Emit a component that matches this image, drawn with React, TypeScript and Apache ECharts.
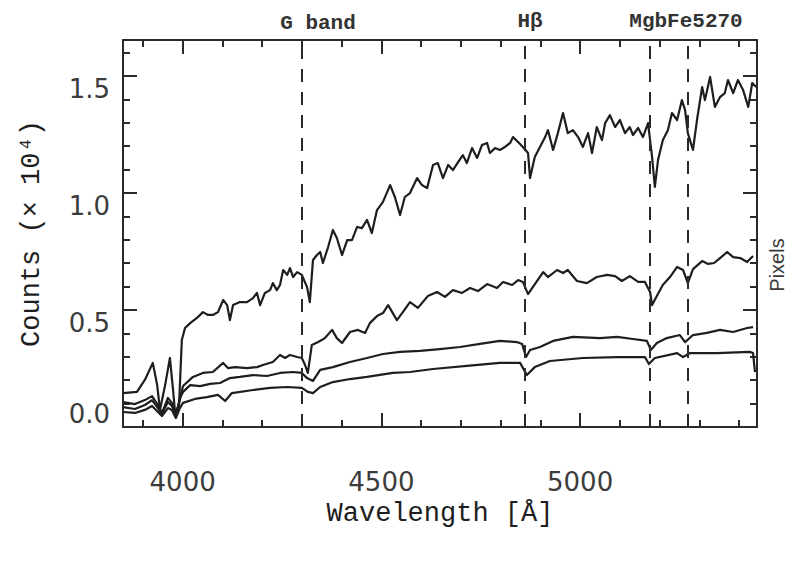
import React, { useEffect, useRef } from "react";
import * as echarts from "echarts";

// ---- Spectrum 1 (brightest) ----
const s1Wave = [3850,3885,3905,3925,3936,3943,3956,3968,3976,3981,3991,3998,4006,4019,4036,4051,4064,4076,4089,4102,4112,4119,4127,4144,4162,4177,4187,4195,4207,4220,4227,4237,4245,4253,4263,4270,4278,4288,4300,4313,4320,4328,4338,4346,4353,4366,4378,4388,4401,4414,4426,4439,4451,4464,4476,4489,4504,4522,4534,4547,4559,4572,4590,4602,4615,4630,4642,4655,4668,4680,4693,4705,4715,4728,4741,4753,4766,4773,4786,4798,4811,4824,4831,4844,4856,4869,4874,4886,4899,4912,4919,4932,4944,4957,4969,4982,4995,5007,5020,5030,5042,5055,5063,5075,5088,5100,5113,5125,5133,5146,5158,5171,5181,5188,5196,5208,5221,5231,5244,5256,5264,5271,5284,5294,5307,5314,5327,5339,5352,5364,5372,5385,5397,5410,5423,5433,5443];
const s1Flux = [0.145,0.150,0.201,0.274,0.179,0.073,0.179,0.295,0.158,0.060,0.094,0.372,0.423,0.444,0.466,0.491,0.479,0.479,0.491,0.543,0.521,0.457,0.521,0.534,0.534,0.551,0.573,0.521,0.573,0.585,0.615,0.585,0.607,0.671,0.650,0.679,0.641,0.662,0.650,0.598,0.534,0.714,0.735,0.748,0.701,0.769,0.842,0.808,0.735,0.799,0.799,0.855,0.850,0.885,0.829,0.927,0.962,1.034,0.983,0.906,0.983,1.000,1.064,1.034,1.021,1.120,1.128,1.064,1.120,1.098,1.132,1.162,1.128,1.192,1.150,1.205,1.214,1.171,1.192,1.184,1.197,1.214,1.239,1.218,1.197,1.171,1.064,1.154,1.197,1.239,1.269,1.184,1.256,1.342,1.256,1.269,1.239,1.197,1.256,1.171,1.282,1.226,1.299,1.333,1.282,1.312,1.256,1.282,1.248,1.278,1.239,1.299,1.154,1.026,1.141,1.226,1.269,1.342,1.312,1.397,1.355,1.256,1.184,1.312,1.453,1.397,1.496,1.368,1.410,1.427,1.483,1.427,1.483,1.440,1.368,1.470,1.453];

// ---- Spectrum 2 ----
const s2Wave = [3850,3880,3905,3923,3938,3948,3963,3973,3983,3993,4001,4026,4051,4076,4102,4114,4132,4162,4187,4202,4227,4245,4258,4270,4288,4300,4308,4315,4325,4341,4358,4376,4388,4401,4421,4441,4459,4471,4489,4504,4517,4539,4554,4572,4592,4617,4640,4660,4680,4703,4723,4743,4766,4791,4806,4829,4844,4856,4869,4881,4907,4919,4942,4957,4969,4992,5017,5042,5068,5088,5105,5125,5146,5163,5176,5181,5193,5208,5226,5244,5259,5271,5284,5307,5322,5337,5352,5370,5385,5403,5420,5435];
const s2Flux = [0.107,0.098,0.115,0.132,0.094,0.060,0.124,0.103,0.051,0.115,0.175,0.214,0.231,0.235,0.274,0.252,0.256,0.252,0.256,0.265,0.278,0.308,0.295,0.308,0.299,0.295,0.265,0.231,0.350,0.363,0.380,0.415,0.380,0.359,0.406,0.415,0.402,0.444,0.474,0.487,0.521,0.457,0.491,0.534,0.509,0.560,0.577,0.556,0.585,0.573,0.594,0.581,0.611,0.594,0.620,0.607,0.628,0.620,0.568,0.598,0.662,0.641,0.671,0.658,0.671,0.624,0.615,0.641,0.650,0.645,0.624,0.645,0.620,0.620,0.577,0.521,0.560,0.607,0.641,0.684,0.671,0.615,0.675,0.709,0.697,0.701,0.722,0.748,0.726,0.722,0.705,0.731];

// ---- Spectrum 3 ----
const s3Wave = [3850,3880,3905,3923,3938,3948,3963,3973,3983,3993,4001,4019,4044,4069,4094,4119,4144,4177,4212,4245,4278,4300,4313,4328,4346,4378,4421,4464,4504,4547,4597,4647,4698,4748,4798,4841,4854,4864,4874,4899,4932,4982,5050,5093,5133,5168,5178,5193,5218,5251,5264,5284,5319,5352,5385,5420,5435];
const s3Flux = [0.085,0.077,0.094,0.115,0.081,0.056,0.107,0.090,0.047,0.124,0.150,0.179,0.175,0.184,0.188,0.209,0.214,0.222,0.218,0.231,0.235,0.231,0.209,0.197,0.244,0.256,0.278,0.295,0.312,0.321,0.325,0.333,0.342,0.355,0.368,0.363,0.355,0.299,0.329,0.342,0.368,0.385,0.380,0.385,0.376,0.368,0.329,0.359,0.380,0.393,0.363,0.393,0.402,0.415,0.406,0.423,0.427];

// ---- Spectrum 4 (faintest) ----
const s4Wave = [3850,3880,3905,3923,3938,3948,3963,3973,3983,3993,4001,4031,4061,4089,4107,4124,4177,4220,4263,4300,4315,4328,4346,4378,4421,4464,4529,4572,4630,4715,4798,4849,4866,4886,4924,5007,5093,5163,5173,5188,5244,5259,5277,5344,5427,5435,5440];
const s4Flux = [0.064,0.060,0.073,0.090,0.064,0.047,0.081,0.073,0.038,0.081,0.103,0.120,0.128,0.137,0.111,0.145,0.158,0.167,0.171,0.167,0.150,0.145,0.171,0.192,0.205,0.214,0.231,0.235,0.248,0.261,0.274,0.274,0.222,0.256,0.282,0.295,0.299,0.299,0.269,0.295,0.316,0.299,0.316,0.316,0.321,0.316,0.235];

// feature lines (Angstrom) and their labels
const featureWaves = [4300, 4861, 5175, 5270];
const featureNames = ["G band", "H\u03b2", "MgbFe5270"];

// tick labels
const xTickLabels = ["4000", "4500", "5000"];
const yTickLabels = ["0.0", "0.5", "1.0", "1.5"];

const X_MIN = 3850;
const X_MAX = 5445;
const Y_MIN = 0;
const Y_MAX = 1.654;

const ink = "#2a2a2a";
const labelColor = "#3c3c3c";
const monoFont = "Liberation Mono";

function App() {
  const ref = useRef<HTMLDivElement>(null);

  useEffect(() => {
    if (!ref.current) return;
    const chart = echarts.init(ref.current, null, { renderer: "svg" });

    const spectra = [
      [s1Wave, s1Flux],
      [s2Wave, s2Flux],
      [s3Wave, s3Flux],
      [s4Wave, s4Flux],
    ];

    const tickLabelStyle = {
      fontFamily: "DejaVu Sans",
      fontSize: 26,
      color: labelColor,
    };
    const nameStyle = {
      fontFamily: monoFont,
      fontWeight: "normal" as const,
      fontSize: 27,
      color: "#1e1e1e",
    };

    const xMajor = (pos: "bottom" | "top", labels: boolean) => ({
      type: "value",
      position: pos,
      min: X_MIN,
      max: X_MAX,
      splitNumber: 3,
      minInterval: 500,
      maxInterval: 500,
      axisLine: { show: true, onZero: false, lineStyle: { color: ink, width: 2 } },
      axisTick: { show: true, inside: true, length: 14, lineStyle: { color: ink, width: 2 } },
      axisLabel: labels
        ? {
            show: true,
            margin: 42,
            showMinLabel: false,
            showMaxLabel: false,
            formatter: (v: number) => (xTickLabels.includes(String(v)) ? String(v) : ""),
            ...tickLabelStyle,
          }
        : { show: false },
      splitLine: { show: false },
      ...(labels
        ? {
            name: "Wavelength [\u00c5]",
            nameLocation: "middle",
            nameGap: 73,
            nameMoveOverlap: false,
            nameTextStyle: nameStyle,
          }
        : {}),
    });
    const xMinor = (pos: "bottom" | "top") => ({
      type: "value",
      position: pos,
      min: X_MIN,
      max: X_MAX,
      splitNumber: 16,
      minInterval: 100,
      maxInterval: 100,
      axisLine: { show: false, onZero: false },
      axisTick: { show: true, inside: true, length: 7, lineStyle: { color: ink, width: 2 } },
      axisLabel: { show: false },
      splitLine: { show: false },
    });

    const yMajor = (pos: "left" | "right", labels: boolean) => ({
      type: "value",
      position: pos,
      min: Y_MIN,
      max: Y_MAX,
      interval: 0.5,
      axisLine: { show: true, onZero: false, lineStyle: { color: ink, width: 2 } },
      axisTick: { show: true, inside: true, length: 14, lineStyle: { color: ink, width: 2 } },
      axisLabel: labels
        ? {
            show: true,
            margin: 13,
            verticalAlign: "top",
            verticalAlignMinLabel: "bottom",
            showMaxLabel: false,
            formatter: (v: number) =>
              yTickLabels.find((l) => Math.abs(parseFloat(l) - v) < 1e-6) ?? "",
            ...tickLabelStyle,
          }
        : { show: false },
      splitLine: { show: false },
      ...(labels
        ? {
            name: "Counts (\u00d7 10\u2074)",
            nameLocation: "middle",
            nameRotate: 90,
            nameGap: 78,
            nameMoveOverlap: false,
            nameTextStyle: nameStyle,
          }
        : {}),
    });
    const yMinor = (pos: "left" | "right") => ({
      type: "value",
      position: pos,
      min: Y_MIN,
      max: Y_MAX,
      interval: 0.1,
      axisLine: { show: false, onZero: false },
      axisTick: { show: true, inside: true, length: 7, lineStyle: { color: ink, width: 2 } },
      axisLabel: { show: false },
      splitLine: { show: false },
    });

    const topFont = { fontFamily: monoFont, fontWeight: "bold", fontSize: 21, fill: "#333" };

    const option: any = {
      animation: false,
      backgroundColor: "#ffffff",
      grid: {
        left: 123,
        right: 33,
        top: 40,
        bottom: 134,
        containLabel: false,
        outerBoundsMode: "none",
      },
      xAxis: [xMajor("bottom", true), xMinor("bottom"), xMajor("top", false), xMinor("top")],
      yAxis: [yMajor("left", true), yMinor("left"), yMajor("right", false), yMinor("right")],
      series: spectra.map(([w, f], i) => ({
        type: "line",
        xAxisIndex: 0,
        yAxisIndex: 0,
        data: (w as number[]).map((x, j) => [x, (f as number[])[j]]),
        showSymbol: false,
        symbol: "none",
        silent: true,
        lineStyle: { color: "#1e1e1e", width: 2.2, join: "round" },
        z: 3,
        markLine:
          i === 0
            ? {
                silent: true,
                symbol: ["none", "none"],
                label: { show: false },
                lineStyle: { type: [13, 10], color: ink, width: 2 },
                data: featureWaves.map((x) => ({ xAxis: x })),
              }
            : undefined,
      })),
      graphic: [
        {
          type: "text",
          x: 318,
          y: 23,
          style: { text: featureNames[0], align: "center", verticalAlign: "middle", ...topFont },
        },
        {
          type: "text",
          x: 530,
          y: 21,
          style: { text: featureNames[1], align: "center", verticalAlign: "middle", ...topFont },
        },
        {
          type: "text",
          x: 686,
          y: 21,
          style: { text: featureNames[2], align: "center", verticalAlign: "middle", ...topFont },
        },
        {
          type: "text",
          x: 777,
          y: 265,
          rotation: Math.PI / 2,
          style: {
            text: "Pixels",
            align: "center",
            verticalAlign: "middle",
            fontFamily: "Liberation Sans",
            fontSize: 20,
            fill: "#3a3a3a",
          },
        },
      ],
    };

    chart.setOption(option);
    return () => chart.dispose();
  }, []);

  return (
    <div
      ref={ref}
      style={{ position: "absolute", left: 0, top: 0, width: 790, height: 561, background: "#fff" }}
    />
  );
}

export default App;
